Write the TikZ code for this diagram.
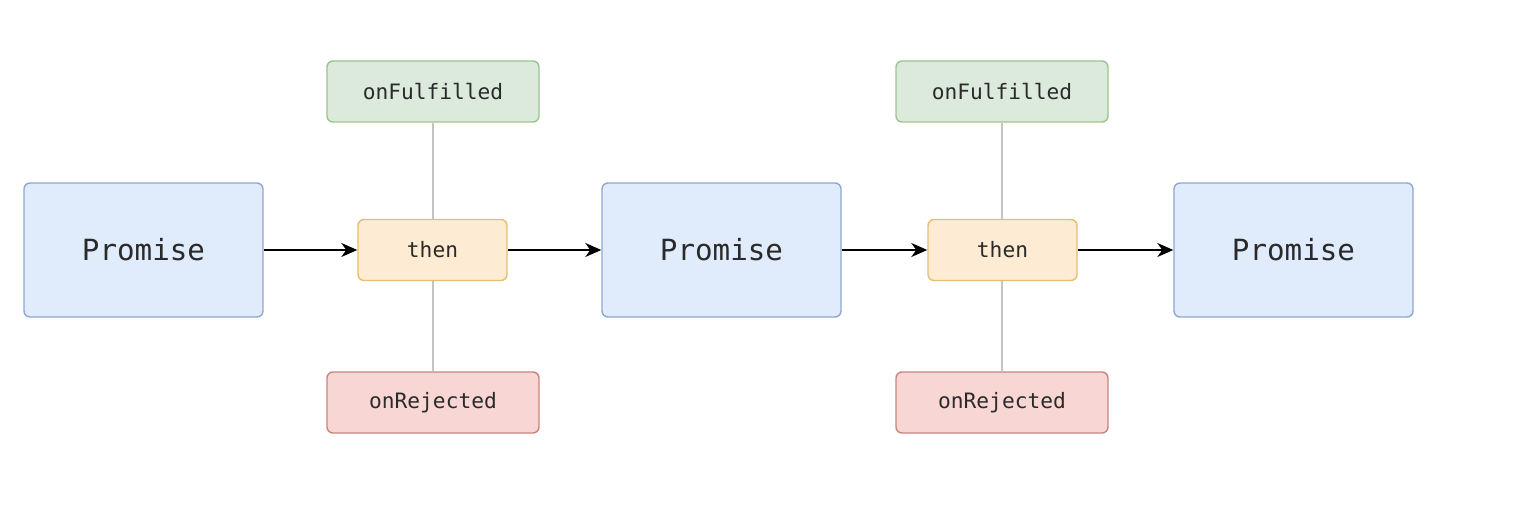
\documentclass[tikz,border=0pt]{standalone}
\usepackage{fontspec}
\setmonofont{DejaVu Sans Mono}
\usetikzlibrary{arrows.meta}
\definecolor{pfill}{HTML}{E0EBFB}
\definecolor{pdraw}{HTML}{8EA8D2}
\definecolor{tfill}{HTML}{FDEBD3}
\definecolor{tdraw}{HTML}{E6BE6E}
\definecolor{gfill}{HTML}{DCEADB}
\definecolor{gdraw}{HTML}{9DC490}
\definecolor{rfill}{HTML}{F8D6D3}
\definecolor{rdraw}{HTML}{C88580}
\definecolor{txt}{HTML}{2A2A2A}
\definecolor{vline}{HTML}{C4C4C4}
\tikzset{
  box/.style={rectangle, rounded corners=3pt, line width=0.7pt, text=txt, font=\ttfamily, inner sep=0pt},
  promisebox/.style={box, fill=pfill, draw=pdraw, minimum width=119.5pt, minimum height=67pt, font=\ttfamily\fontsize{14.6}{16}\selectfont},
  thenbox/.style={box, fill=tfill, draw=tdraw, minimum width=74.5pt, minimum height=30.5pt, font=\ttfamily\fontsize{10.6}{12}\selectfont},
  fulbox/.style={box, fill=gfill, draw=gdraw, minimum width=106pt, minimum height=30.5pt, font=\ttfamily\fontsize{10.6}{12}\selectfont},
  rejbox/.style={box, fill=rfill, draw=rdraw, minimum width=106pt, minimum height=30.5pt, font=\ttfamily\fontsize{10.6}{12}\selectfont},
  flow/.style={line width=0.9pt, -{Stealth[length=8pt,width=7pt,inset=2.5pt]}},
  branch/.style={line width=0.7pt, draw=vline}
}
\begin{document}
\begin{tikzpicture}[x=0.5pt,y=-0.5pt]
\useasboundingbox (0,0) rectangle (1538,524);
\node[promisebox] (p1) at (143.5,250) {Promise};
\node[promisebox] (p2) at (721.5,250) {Promise};
\node[promisebox] (p3) at (1293.5,250) {Promise};
\node[fulbox] (f1) at (433,91.5) {onFulfilled};
\node[rejbox] (r1) at (433,402.5) {onRejected};
\node[fulbox] (f2) at (1002,91.5) {onFulfilled};
\node[rejbox] (r2) at (1002,402.5) {onRejected};
\draw[branch] (f1.south) -- (r1.north);
\draw[branch] (f2.south) -- (r2.north);
\node[thenbox] (t1) at (432.5,250) {then};
\node[thenbox] (t2) at (1002.5,250) {then};
\draw[flow] (p1.east) -- (t1.west);
\draw[flow] (t1.east) -- (p2.west);
\draw[flow] (p2.east) -- (t2.west);
\draw[flow] (t2.east) -- (p3.west);
\end{tikzpicture}
\end{document}
